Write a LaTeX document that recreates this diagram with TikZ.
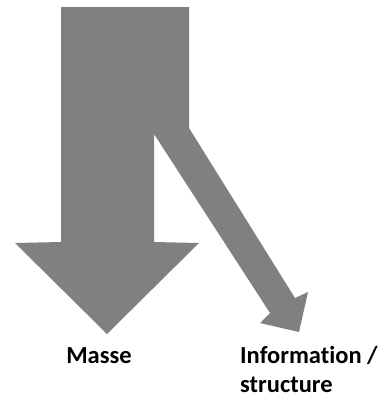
\documentclass[tikz,border=0pt]{standalone}
\usepackage{fontspec}
\setmainfont[Ligatures=NoCommon]{Carlito}
\definecolor{arrowgray}{RGB}{128,128,128}
\begin{document}
\begin{tikzpicture}[x=1pt,y=-1pt,
  lbl/.style={inner sep=0pt,font=\fontsize{24.5}{29}\selectfont\bfseries}]
\useasboundingbox (0,0) rectangle (384,394);
\fill[arrowgray] (61,7) -- (189,7) -- (189,128) -- (295,298) -- (308,292) -- (299,332)
  -- (260,323) -- (270,313) -- (154,134) -- (154,242) -- (199,243) -- (107,334)
  -- (15,243) -- (61,242) -- cycle;
\node[lbl,anchor=base] (masse) at (99,363) {Masse};
\node[lbl,anchor=base west] (info) at (240,363) {Information /};
\node[lbl,anchor=base west] (struct) at (240,392) {structure};
\end{tikzpicture}
\end{document}
